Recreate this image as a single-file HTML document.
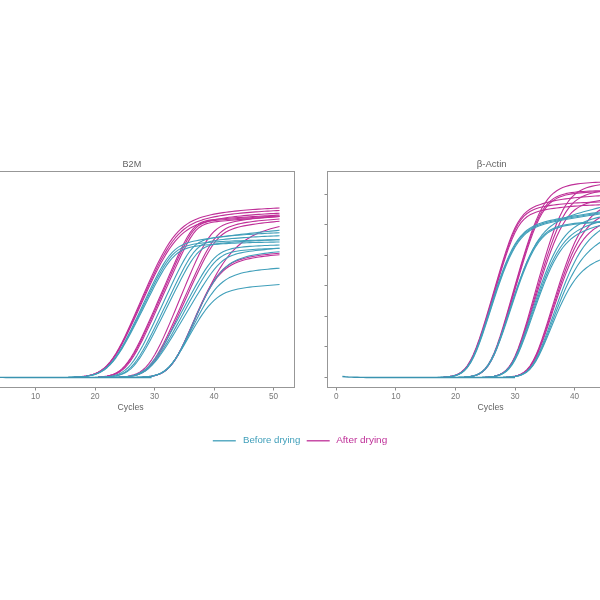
<!DOCTYPE html>
<html><head><meta charset="utf-8"><title>qPCR amplification curves</title>
<style>
html,body{margin:0;padding:0;background:#fff;}
body{width:600px;height:600px;overflow:hidden;font-family:"Liberation Sans",sans-serif;}
div.wrap{width:600px;height:600px;will-change:transform;}
svg{display:block;font-family:"Liberation Sans",sans-serif;}
</style></head><body>
<div class="wrap"><svg width="600" height="600" viewBox="0 0 600 600">
<rect width="600" height="600" fill="#ffffff"/>
<clipPath id="cl"><rect x="-32.5" y="171.5" width="327.0" height="216.0"/></clipPath>
<g clip-path="url(#cl)" fill="none" stroke-width="1.1" stroke-linejoin="round">
<path d="M74.28 377.10 L77.25 376.94 L80.22 376.72 L83.20 376.42 L86.18 376.01 L89.15 375.44 L92.12 374.68 L95.10 373.65 L98.08 372.30 L101.05 370.53 L104.03 368.28 L107.00 365.48 L109.97 362.08 L112.95 358.07 L115.93 353.47 L118.90 348.32 L121.88 342.70 L124.85 336.68 L127.82 330.35 L130.80 323.80 L133.78 317.08 L136.75 310.26 L139.72 303.39 L142.70 296.52 L145.68 289.70 L148.65 282.97 L151.62 276.38 L154.60 269.98 L157.57 263.83 L160.55 257.97 L163.53 252.45 L166.50 247.33 L169.47 242.64 L172.45 238.41 L175.43 234.65 L178.40 231.35 L181.38 228.47 L184.35 226.00 L187.32 223.88 L190.30 222.07 L193.28 220.52 L196.25 219.20 L199.22 218.05 L202.20 217.06 L205.18 216.20 L208.15 215.44 L211.12 214.76 L214.10 214.15 L217.07 213.61 L220.05 213.11 L223.03 212.66 L226.00 212.24 L228.97 211.85 L231.95 211.49 L234.92 211.16 L237.90 210.85 L240.88 210.55 L243.85 210.28 L246.83 210.02 L249.80 209.78 L252.78 209.55 L255.75 209.34 L258.73 209.14 L261.70 208.94 L264.68 208.76 L267.65 208.59 L270.63 208.43 L273.60 208.28 L276.58 208.14 L279.55 208.00" stroke="#bf2f98"/>
<path d="M74.28 377.11 L77.25 376.95 L80.22 376.74 L83.20 376.45 L86.18 376.05 L89.15 375.50 L92.12 374.75 L95.10 373.75 L98.08 372.43 L101.05 370.72 L104.03 368.53 L107.00 365.80 L109.97 362.49 L112.95 358.59 L115.93 354.11 L118.90 349.09 L121.88 343.62 L124.85 337.76 L127.82 331.60 L130.80 325.21 L133.78 318.67 L136.75 312.02 L139.72 305.32 L142.70 298.62 L145.68 291.96 L148.65 285.38 L151.62 278.94 L154.60 272.67 L157.57 266.62 L160.55 260.85 L163.53 255.41 L166.50 250.35 L169.47 245.70 L172.45 241.48 L175.43 237.72 L178.40 234.41 L181.38 231.52 L184.35 229.02 L187.32 226.87 L190.30 225.03 L193.28 223.45 L196.25 222.09 L199.22 220.92 L202.20 219.90 L205.18 219.01 L208.15 218.23 L211.12 217.53 L214.10 216.90 L217.07 216.34 L220.05 215.82 L223.03 215.35 L226.00 214.91 L228.97 214.51 L231.95 214.14 L234.92 213.79 L237.90 213.47 L240.88 213.16 L243.85 212.88 L246.83 212.61 L249.80 212.36 L252.78 212.12 L255.75 211.90 L258.73 211.68 L261.70 211.48 L264.68 211.30 L267.65 211.12 L270.63 210.95 L273.60 210.79 L276.58 210.64 L279.55 210.50" stroke="#bf2f98"/>
<path d="M74.28 377.12 L77.25 376.97 L80.22 376.76 L83.20 376.48 L86.18 376.09 L89.15 375.55 L92.12 374.83 L95.10 373.86 L98.08 372.57 L101.05 370.90 L104.03 368.77 L107.00 366.12 L109.97 362.90 L112.95 359.11 L115.93 354.75 L118.90 349.87 L121.88 344.54 L124.85 338.84 L127.82 332.85 L130.80 326.63 L133.78 320.26 L136.75 313.78 L139.72 307.26 L142.70 300.72 L145.68 294.23 L148.65 287.81 L151.62 281.50 L154.60 275.36 L157.57 269.44 L160.55 263.77 L163.53 258.41 L166.50 253.40 L169.47 248.79 L172.45 244.60 L175.43 240.85 L178.40 237.53 L181.38 234.63 L184.35 232.11 L187.32 229.94 L190.30 228.07 L193.28 226.47 L196.25 225.09 L199.22 223.90 L202.20 222.86 L205.18 221.95 L208.15 221.14 L211.12 220.43 L214.10 219.78 L217.07 219.20 L220.05 218.67 L223.03 218.19 L226.00 217.74 L228.97 217.33 L231.95 216.94 L234.92 216.59 L237.90 216.25 L240.88 215.94 L243.85 215.65 L246.83 215.37 L249.80 215.11 L252.78 214.87 L255.75 214.64 L258.73 214.42 L261.70 214.21 L264.68 214.02 L267.65 213.84 L270.63 213.66 L273.60 213.50 L276.58 213.35 L279.55 213.20" stroke="#bf2f98"/>
<path d="M98.08 377.05 L101.05 376.84 L104.03 376.52 L107.00 376.06 L109.97 375.39 L112.95 374.44 L115.93 373.12 L118.90 371.31 L121.88 368.92 L124.85 365.88 L127.82 362.16 L130.80 357.77 L133.78 352.79 L136.75 347.30 L139.72 341.42 L142.70 335.23 L145.68 328.83 L148.65 322.28 L151.62 315.61 L154.60 308.87 L157.57 302.09 L160.55 295.27 L163.53 288.44 L166.50 281.61 L169.47 274.80 L172.45 268.03 L175.43 261.34 L178.40 254.79 L181.38 248.46 L184.35 242.50 L187.32 237.07 L190.30 232.37 L193.28 228.54 L196.25 225.63 L199.22 223.53 L202.20 222.08 L205.18 221.09 L208.15 220.40 L211.12 219.91 L214.10 219.52 L217.07 219.21 L220.05 218.94 L223.03 218.69 L226.00 218.46 L228.97 218.24 L231.95 218.02 L234.92 217.81 L237.90 217.61 L240.88 217.40 L243.85 217.20 L246.83 217.01 L249.80 216.81 L252.78 216.62 L255.75 216.43 L258.73 216.24 L261.70 216.06 L264.68 215.88 L267.65 215.70 L270.63 215.52 L273.60 215.34 L276.58 215.17 L279.55 215.00" stroke="#bf2f98"/>
<path d="M98.08 377.09 L101.05 376.90 L104.03 376.61 L107.00 376.18 L109.97 375.57 L112.95 374.70 L115.93 373.48 L118.90 371.80 L121.88 369.57 L124.85 366.71 L127.82 363.17 L130.80 358.97 L133.78 354.17 L136.75 348.85 L139.72 343.13 L142.70 337.09 L145.68 330.81 L148.65 324.38 L151.62 317.83 L154.60 311.20 L157.57 304.52 L160.55 297.81 L163.53 291.08 L166.50 284.34 L169.47 277.62 L172.45 270.93 L175.43 264.30 L178.40 257.77 L181.38 251.44 L184.35 245.40 L187.32 239.83 L190.30 234.89 L193.28 230.77 L196.25 227.54 L199.22 225.17 L202.20 223.51 L205.18 222.37 L208.15 221.58 L211.12 221.01 L214.10 220.59 L217.07 220.24 L220.05 219.95 L223.03 219.68 L226.00 219.43 L228.97 219.20 L231.95 218.97 L234.92 218.75 L237.90 218.54 L240.88 218.32 L243.85 218.11 L246.83 217.91 L249.80 217.70 L252.78 217.50 L255.75 217.30 L258.73 217.11 L261.70 216.91 L264.68 216.72 L267.65 216.53 L270.63 216.35 L273.60 216.16 L276.58 215.98 L279.55 215.80" stroke="#bf2f98"/>
<path d="M98.08 377.14 L101.05 376.97 L104.03 376.72 L107.00 376.35 L109.97 375.81 L112.95 375.03 L115.93 373.94 L118.90 372.43 L121.88 370.41 L124.85 367.78 L127.82 364.50 L130.80 360.55 L133.78 355.99 L136.75 350.89 L139.72 345.36 L142.70 339.49 L145.68 333.37 L148.65 327.08 L151.62 320.65 L154.60 314.14 L157.57 307.57 L160.55 300.96 L163.53 294.34 L166.50 287.70 L169.47 281.06 L172.45 274.45 L175.43 267.89 L178.40 261.41 L181.38 255.08 L184.35 248.99 L187.32 243.28 L190.30 238.12 L193.28 233.69 L196.25 230.12 L199.22 227.42 L202.20 225.49 L205.18 224.14 L208.15 223.20 L211.12 222.52 L214.10 222.02 L217.07 221.61 L220.05 221.27 L223.03 220.96 L226.00 220.68 L228.97 220.41 L231.95 220.15 L234.92 219.89 L237.90 219.64 L240.88 219.40 L243.85 219.16 L246.83 218.92 L249.80 218.69 L252.78 218.45 L255.75 218.23 L258.73 218.00 L261.70 217.78 L264.68 217.56 L267.65 217.34 L270.63 217.13 L273.60 216.92 L276.58 216.71 L279.55 216.50" stroke="#bf2f98"/>
<path d="M118.90 377.08 L121.88 376.89 L124.85 376.61 L127.82 376.21 L130.80 375.64 L133.78 374.82 L136.75 373.68 L139.72 372.12 L142.70 370.03 L145.68 367.32 L148.65 363.93 L151.62 359.82 L154.60 355.03 L157.57 349.62 L160.55 343.71 L163.53 337.38 L166.50 330.73 L169.47 323.87 L172.45 316.84 L175.43 309.71 L178.40 302.52 L181.38 295.31 L184.35 288.12 L187.32 280.99 L190.30 273.96 L193.28 267.10 L196.25 260.49 L199.22 254.22 L202.20 248.41 L205.18 243.16 L208.15 238.56 L211.12 234.67 L214.10 231.47 L217.07 228.90 L220.05 226.87 L223.03 225.28 L226.00 224.01 L228.97 223.00 L231.95 222.17 L234.92 221.47 L237.90 220.88 L240.88 220.36 L243.85 219.89 L246.83 219.47 L249.80 219.09 L252.78 218.74 L255.75 218.42 L258.73 218.12 L261.70 217.84 L264.68 217.58 L267.65 217.33 L270.63 217.11 L273.60 216.89 L276.58 216.69 L279.55 216.50" stroke="#bf2f98"/>
<path d="M118.90 377.18 L121.88 377.03 L124.85 376.82 L127.82 376.51 L130.80 376.06 L133.78 375.43 L136.75 374.53 L139.72 373.30 L142.70 371.62 L145.68 369.41 L148.65 366.60 L151.62 363.14 L154.60 359.03 L157.57 354.32 L160.55 349.09 L163.53 343.43 L166.50 337.45 L169.47 331.22 L172.45 324.81 L175.43 318.27 L178.40 311.66 L181.38 305.00 L184.35 298.31 L187.32 291.63 L190.30 284.99 L193.28 278.41 L196.25 271.93 L199.22 265.62 L202.20 259.53 L205.18 253.77 L208.15 248.42 L211.12 243.59 L214.10 239.37 L217.07 235.78 L220.05 232.83 L223.03 230.46 L226.00 228.58 L228.97 227.09 L231.95 225.90 L234.92 224.94 L237.90 224.15 L240.88 223.48 L243.85 222.90 L246.83 222.40 L249.80 221.95 L252.78 221.54 L255.75 221.17 L258.73 220.82 L261.70 220.51 L264.68 220.21 L267.65 219.94 L270.63 219.68 L273.60 219.44 L276.58 219.21 L279.55 219.00" stroke="#bf2f98"/>
<path d="M121.88 377.10 L124.85 376.92 L127.82 376.65 L130.80 376.27 L133.78 375.72 L136.75 374.95 L139.72 373.87 L142.70 372.39 L145.68 370.42 L148.65 367.89 L151.62 364.72 L154.60 360.91 L157.57 356.48 L160.55 351.51 L163.53 346.09 L166.50 340.31 L169.47 334.25 L172.45 327.99 L175.43 321.60 L178.40 315.11 L181.38 308.56 L184.35 301.98 L187.32 295.40 L190.30 288.84 L193.28 282.34 L196.25 275.93 L199.22 269.66 L202.20 263.60 L205.18 257.83 L208.15 252.45 L211.12 247.55 L214.10 243.23 L217.07 239.53 L220.05 236.47 L223.03 233.98 L226.00 231.99 L228.97 230.41 L231.95 229.15 L234.92 228.12 L237.90 227.27 L240.88 226.54 L243.85 225.91 L246.83 225.34 L249.80 224.84 L252.78 224.37 L255.75 223.94 L258.73 223.54 L261.70 223.16 L264.68 222.81 L267.65 222.47 L270.63 222.16 L273.60 221.86 L276.58 221.57 L279.55 221.30" stroke="#bf2f98"/>
<path d="M142.70 377.07 L145.68 376.87 L148.65 376.57 L151.62 376.15 L154.60 375.55 L157.57 374.69 L160.55 373.49 L163.53 371.84 L166.50 369.64 L169.47 366.78 L172.45 363.19 L175.43 358.86 L178.40 353.82 L181.38 348.16 L184.35 342.00 L187.32 335.48 L190.30 328.74 L193.28 321.89 L196.25 315.07 L199.22 308.38 L202.20 301.92 L205.18 295.79 L208.15 290.09 L211.12 284.87 L214.10 280.19 L217.07 276.08 L220.05 272.53 L223.03 269.51 L226.00 266.96 L228.97 264.84 L231.95 263.08 L234.92 261.61 L237.90 260.38 L240.88 259.35 L243.85 258.47 L246.83 257.71 L249.80 257.05 L252.78 256.47 L255.75 255.95 L258.73 255.49 L261.70 255.07 L264.68 254.69 L267.65 254.35 L270.63 254.03 L273.60 253.73 L276.58 253.46 L279.55 253.20" stroke="#bf2f98"/>
<path d="M142.70 377.07 L145.68 376.87 L148.65 376.59 L151.62 376.17 L154.60 375.57 L157.57 374.72 L160.55 373.54 L163.53 371.91 L166.50 369.74 L169.47 366.91 L172.45 363.37 L175.43 359.10 L178.40 354.12 L181.38 348.54 L184.35 342.46 L187.32 336.02 L190.30 329.37 L193.28 322.62 L196.25 315.89 L199.22 309.29 L202.20 302.93 L205.18 296.90 L208.15 291.29 L211.12 286.15 L214.10 281.56 L217.07 277.51 L220.05 274.02 L223.03 271.05 L226.00 268.54 L228.97 266.45 L231.95 264.70 L234.92 263.24 L237.90 262.01 L240.88 260.97 L243.85 260.09 L246.83 259.32 L249.80 258.65 L252.78 258.06 L255.75 257.54 L258.73 257.06 L261.70 256.63 L264.68 256.24 L267.65 255.89 L270.63 255.55 L273.60 255.25 L276.58 254.96 L279.55 254.70" stroke="#bf2f98"/>
<path d="M142.70 377.10 L145.68 376.91 L148.65 376.64 L151.62 376.23 L154.60 375.65 L157.57 374.83 L160.55 373.67 L163.53 372.08 L166.50 369.95 L169.47 367.18 L172.45 363.71 L175.43 359.51 L178.40 354.61 L181.38 349.11 L184.35 343.10 L187.32 336.72 L190.30 330.09 L193.28 323.32 L196.25 316.50 L199.22 309.70 L202.20 303.01 L205.18 296.49 L208.15 290.19 L211.12 284.16 L214.10 278.44 L217.07 273.07 L220.05 268.08 L223.03 263.47 L226.00 259.25 L228.97 255.42 L231.95 251.95 L234.92 248.83 L237.90 246.02 L240.88 243.51 L243.85 241.26 L246.83 239.23 L249.80 237.42 L252.78 235.79 L255.75 234.31 L258.73 232.98 L261.70 231.78 L264.68 230.68 L267.65 229.69 L270.63 228.78 L273.60 227.95 L276.58 227.19 L279.55 226.50" stroke="#bf2f98"/>
<path d="M68.33 377.32 L71.30 377.25 L74.28 377.15 L77.25 377.02 L80.22 376.83 L83.20 376.57 L86.18 376.21 L89.15 375.73 L92.12 375.06 L95.10 374.18 L98.08 373.00 L101.05 371.47 L104.03 369.52 L107.00 367.08 L109.97 364.11 L112.95 360.59 L115.93 356.54 L118.90 351.99 L121.88 347.00 L124.85 341.65 L127.82 336.01 L130.80 330.13 L133.78 324.07 L136.75 317.90 L139.72 311.65 L142.70 305.35 L145.68 299.05 L148.65 292.79 L151.62 286.61 L154.60 280.57 L157.57 274.76 L160.55 269.24 L163.53 264.13 L166.50 259.53 L169.47 255.52 L172.45 252.13 L175.43 249.36 L178.40 247.15 L181.38 245.41 L184.35 244.04 L187.32 242.95 L190.30 242.06 L193.28 241.32 L196.25 240.67 L199.22 240.10 L202.20 239.58 L205.18 239.10 L208.15 238.64 L211.12 238.20 L214.10 237.77 L217.07 237.36 L220.05 236.96 L223.03 236.57 L226.00 236.19 L228.97 235.81 L231.95 235.44 L234.92 235.07 L237.90 234.72 L240.88 234.37 L243.85 234.02 L246.83 233.68 L249.80 233.35 L252.78 233.02 L255.75 232.70 L258.73 232.38 L261.70 232.07 L264.68 231.76 L267.65 231.46 L270.63 231.16 L273.60 230.87 L276.58 230.58 L279.55 230.30" stroke="#409fba"/>
<path d="M68.33 377.33 L71.30 377.26 L74.28 377.16 L77.25 377.03 L80.22 376.85 L83.20 376.60 L86.18 376.25 L89.15 375.78 L92.12 375.14 L95.10 374.28 L98.08 373.14 L101.05 371.66 L104.03 369.76 L107.00 367.39 L109.97 364.51 L112.95 361.10 L115.93 357.17 L118.90 352.76 L121.88 347.93 L124.85 342.74 L127.82 337.26 L130.80 331.56 L133.78 325.68 L136.75 319.69 L139.72 313.62 L142.70 307.50 L145.68 301.37 L148.65 295.28 L151.62 289.25 L154.60 283.34 L157.57 277.62 L160.55 272.17 L163.53 267.09 L166.50 262.48 L169.47 258.42 L172.45 254.97 L175.43 252.14 L178.40 249.89 L181.38 248.13 L184.35 246.79 L187.32 245.76 L190.30 244.96 L193.28 244.33 L196.25 243.83 L199.22 243.41 L202.20 243.06 L205.18 242.76 L208.15 242.49 L211.12 242.25 L214.10 242.03 L217.07 241.83 L220.05 241.65 L223.03 241.48 L226.00 241.32 L228.97 241.18 L231.95 241.04 L234.92 240.91 L237.90 240.79 L240.88 240.68 L243.85 240.57 L246.83 240.47 L249.80 240.38 L252.78 240.29 L255.75 240.20 L258.73 240.13 L261.70 240.05 L264.68 239.99 L267.65 239.92 L270.63 239.86 L273.60 239.80 L276.58 239.75 L279.55 239.70" stroke="#409fba"/>
<path d="M68.33 377.33 L71.30 377.27 L74.28 377.17 L77.25 377.05 L80.22 376.87 L83.20 376.63 L86.18 376.29 L89.15 375.83 L92.12 375.21 L95.10 374.38 L98.08 373.28 L101.05 371.84 L104.03 370.00 L107.00 367.71 L109.97 364.92 L112.95 361.61 L115.93 357.81 L118.90 353.53 L121.88 348.85 L124.85 343.82 L127.82 338.51 L130.80 332.98 L133.78 327.29 L136.75 321.48 L139.72 315.59 L142.70 309.66 L145.68 303.70 L148.65 297.77 L151.62 291.90 L154.60 286.12 L157.57 280.51 L160.55 275.13 L163.53 270.07 L166.50 265.44 L169.47 261.32 L172.45 257.77 L175.43 254.83 L178.40 252.47 L181.38 250.62 L184.35 249.20 L187.32 248.11 L190.30 247.27 L193.28 246.62 L196.25 246.10 L199.22 245.67 L202.20 245.31 L205.18 245.01 L208.15 244.74 L211.12 244.50 L214.10 244.29 L217.07 244.09 L220.05 243.91 L223.03 243.75 L226.00 243.59 L228.97 243.45 L231.95 243.31 L234.92 243.18 L237.90 243.07 L240.88 242.95 L243.85 242.85 L246.83 242.75 L249.80 242.66 L252.78 242.57 L255.75 242.49 L258.73 242.42 L261.70 242.35 L264.68 242.28 L267.65 242.22 L270.63 242.16 L273.60 242.10 L276.58 242.05 L279.55 242.00" stroke="#409fba"/>
<path d="M95.10 377.34 L98.08 377.26 L101.05 377.14 L104.03 376.97 L107.00 376.71 L109.97 376.34 L112.95 375.79 L115.93 375.01 L118.90 373.92 L121.88 372.41 L124.85 370.38 L127.82 367.76 L130.80 364.50 L133.78 360.60 L136.75 356.09 L139.72 351.07 L142.70 345.64 L145.68 339.88 L148.65 333.88 L151.62 327.72 L154.60 321.44 L157.57 315.08 L160.55 308.68 L163.53 302.25 L166.50 295.82 L169.47 289.42 L172.45 283.08 L175.43 276.85 L178.40 270.79 L181.38 265.00 L184.35 259.61 L187.32 254.74 L190.30 250.55 L193.28 247.11 L196.25 244.42 L199.22 242.39 L202.20 240.89 L205.18 239.79 L208.15 238.96 L211.12 238.32 L214.10 237.80 L217.07 237.37 L220.05 236.98 L223.03 236.64 L226.00 236.33 L228.97 236.03 L231.95 235.76 L234.92 235.50 L237.90 235.25 L240.88 235.01 L243.85 234.79 L246.83 234.57 L249.80 234.36 L252.78 234.16 L255.75 233.97 L258.73 233.79 L261.70 233.61 L264.68 233.44 L267.65 233.28 L270.63 233.13 L273.60 232.98 L276.58 232.84 L279.55 232.70" stroke="#409fba"/>
<path d="M98.08 377.33 L101.05 377.24 L104.03 377.12 L107.00 376.94 L109.97 376.67 L112.95 376.28 L115.93 375.71 L118.90 374.89 L121.88 373.75 L124.85 372.19 L127.82 370.12 L130.80 367.45 L133.78 364.16 L136.75 360.25 L139.72 355.78 L142.70 350.84 L145.68 345.50 L148.65 339.88 L151.62 334.05 L154.60 328.06 L157.57 321.97 L160.55 315.81 L163.53 309.61 L166.50 303.39 L169.47 297.17 L172.45 290.97 L175.43 284.83 L178.40 278.78 L181.38 272.89 L184.35 267.24 L187.32 261.94 L190.30 257.14 L193.28 252.97 L196.25 249.52 L199.22 246.80 L202.20 244.75 L205.18 243.24 L208.15 242.14 L211.12 241.32 L214.10 240.70 L217.07 240.20 L220.05 239.79 L223.03 239.44 L226.00 239.13 L228.97 238.84 L231.95 238.57 L234.92 238.33 L237.90 238.09 L240.88 237.87 L243.85 237.65 L246.83 237.45 L249.80 237.26 L252.78 237.07 L255.75 236.89 L258.73 236.72 L261.70 236.55 L264.68 236.40 L267.65 236.25 L270.63 236.10 L273.60 235.96 L276.58 235.83 L279.55 235.70" stroke="#409fba"/>
<path d="M98.08 377.36 L101.05 377.29 L104.03 377.18 L107.00 377.03 L109.97 376.80 L112.95 376.47 L115.93 375.99 L118.90 375.30 L121.88 374.33 L124.85 372.98 L127.82 371.17 L130.80 368.81 L133.78 365.86 L136.75 362.30 L139.72 358.18 L142.70 353.57 L145.68 348.55 L148.65 343.23 L151.62 337.67 L154.60 331.95 L157.57 326.11 L160.55 320.19 L163.53 314.22 L166.50 308.23 L169.47 302.23 L172.45 296.23 L175.43 290.27 L178.40 284.38 L181.38 278.59 L184.35 272.98 L187.32 267.64 L190.30 262.68 L193.28 258.26 L196.25 254.47 L199.22 251.40 L202.20 249.03 L205.18 247.26 L208.15 245.98 L211.12 245.05 L214.10 244.36 L217.07 243.84 L220.05 243.42 L223.03 243.07 L226.00 242.77 L228.97 242.51 L231.95 242.27 L234.92 242.04 L237.90 241.83 L240.88 241.63 L243.85 241.44 L246.83 241.26 L249.80 241.08 L252.78 240.92 L255.75 240.76 L258.73 240.60 L261.70 240.46 L264.68 240.32 L267.65 240.18 L270.63 240.06 L273.60 239.93 L276.58 239.81 L279.55 239.70" stroke="#409fba"/>
<path d="M112.95 377.34 L115.93 377.26 L118.90 377.15 L121.88 376.99 L124.85 376.75 L127.82 376.41 L130.80 375.93 L133.78 375.25 L136.75 374.29 L139.72 373.00 L142.70 371.28 L145.68 369.07 L148.65 366.31 L151.62 363.01 L154.60 359.19 L157.57 354.92 L160.55 350.26 L163.53 345.31 L166.50 340.13 L169.47 334.78 L172.45 329.32 L175.43 323.78 L178.40 318.19 L181.38 312.58 L184.35 306.96 L187.32 301.35 L190.30 295.78 L193.28 290.28 L196.25 284.89 L199.22 279.65 L202.20 274.63 L205.18 269.91 L208.15 265.58 L211.12 261.72 L214.10 258.41 L217.07 255.66 L220.05 253.45 L223.03 251.73 L226.00 250.41 L228.97 249.41 L231.95 248.64 L234.92 248.05 L237.90 247.59 L240.88 247.21 L243.85 246.90 L246.83 246.64 L249.80 246.41 L252.78 246.21 L255.75 246.02 L258.73 245.86 L261.70 245.71 L264.68 245.57 L267.65 245.44 L270.63 245.32 L273.60 245.20 L276.58 245.10 L279.55 245.00" stroke="#409fba"/>
<path d="M115.93 377.31 L118.90 377.22 L121.88 377.09 L124.85 376.90 L127.82 376.62 L130.80 376.23 L133.78 375.67 L136.75 374.88 L139.72 373.79 L142.70 372.34 L145.68 370.43 L148.65 368.01 L151.62 365.06 L154.60 361.59 L157.57 357.64 L160.55 353.28 L163.53 348.59 L166.50 343.65 L169.47 338.52 L172.45 333.25 L175.43 327.89 L178.40 322.46 L181.38 317.01 L184.35 311.53 L187.32 306.06 L190.30 300.61 L193.28 295.21 L196.25 289.90 L199.22 284.70 L202.20 279.68 L205.18 274.92 L208.15 270.48 L211.12 266.46 L214.10 262.93 L217.07 259.95 L220.05 257.52 L223.03 255.59 L226.00 254.10 L228.97 252.97 L231.95 252.11 L234.92 251.45 L237.90 250.94 L240.88 250.54 L243.85 250.21 L246.83 249.93 L249.80 249.70 L252.78 249.49 L255.75 249.31 L258.73 249.15 L261.70 249.00 L264.68 248.86 L267.65 248.73 L270.63 248.61 L273.60 248.50 L276.58 248.40 L279.55 248.30" stroke="#409fba"/>
<path d="M115.93 377.31 L118.90 377.23 L121.88 377.10 L124.85 376.92 L127.82 376.65 L130.80 376.27 L133.78 375.73 L136.75 374.97 L139.72 373.94 L142.70 372.55 L145.68 370.74 L148.65 368.46 L151.62 365.70 L154.60 362.46 L157.57 358.80 L160.55 354.77 L163.53 350.46 L166.50 345.93 L169.47 341.23 L172.45 336.41 L175.43 331.51 L178.40 326.55 L181.38 321.56 L184.35 316.55 L187.32 311.53 L190.30 306.51 L193.28 301.52 L196.25 296.56 L199.22 291.67 L202.20 286.86 L205.18 282.19 L208.15 277.71 L211.12 273.49 L214.10 269.59 L217.07 266.11 L220.05 263.08 L223.03 260.53 L226.00 258.45 L228.97 256.78 L231.95 255.46 L234.92 254.40 L237.90 253.56 L240.88 252.86 L243.85 252.28 L246.83 251.77 L249.80 251.33 L252.78 250.93 L255.75 250.56 L258.73 250.22 L261.70 249.90 L264.68 249.60 L267.65 249.31 L270.63 249.04 L273.60 248.78 L276.58 248.54 L279.55 248.30" stroke="#409fba"/>
<path d="M133.78 377.36 L136.75 377.29 L139.72 377.19 L142.70 377.04 L145.68 376.82 L148.65 376.50 L151.62 376.04 L154.60 375.38 L157.57 374.44 L160.55 373.15 L163.53 371.42 L166.50 369.16 L169.47 366.32 L172.45 362.90 L175.43 358.93 L178.40 354.50 L181.38 349.70 L184.35 344.65 L187.32 339.46 L190.30 334.22 L193.28 329.04 L196.25 324.00 L199.22 319.17 L202.20 314.64 L205.18 310.45 L208.15 306.66 L211.12 303.30 L214.10 300.38 L217.07 297.88 L220.05 295.78 L223.03 294.04 L226.00 292.61 L228.97 291.43 L231.95 290.46 L234.92 289.67 L237.90 289.00 L240.88 288.44 L243.85 287.95 L246.83 287.53 L249.80 287.15 L252.78 286.82 L255.75 286.50 L258.73 286.21 L261.70 285.94 L264.68 285.68 L267.65 285.43 L270.63 285.19 L273.60 284.95 L276.58 284.72 L279.55 284.50" stroke="#409fba"/>
<path d="M136.75 377.31 L139.72 377.22 L142.70 377.08 L145.68 376.88 L148.65 376.59 L151.62 376.17 L154.60 375.55 L157.57 374.68 L160.55 373.46 L163.53 371.80 L166.50 369.59 L169.47 366.77 L172.45 363.29 L175.43 359.16 L178.40 354.45 L181.38 349.26 L184.35 343.70 L187.32 337.90 L190.30 331.98 L193.28 326.03 L196.25 320.14 L199.22 314.41 L202.20 308.92 L205.18 303.74 L208.15 298.93 L211.12 294.56 L214.10 290.65 L217.07 287.22 L220.05 284.26 L223.03 281.74 L226.00 279.63 L228.97 277.86 L231.95 276.39 L234.92 275.17 L237.90 274.16 L240.88 273.30 L243.85 272.57 L246.83 271.95 L249.80 271.41 L252.78 270.93 L255.75 270.51 L258.73 270.13 L261.70 269.78 L264.68 269.47 L267.65 269.18 L270.63 268.91 L273.60 268.66 L276.58 268.42 L279.55 268.20" stroke="#409fba"/>
<path d="M136.75 377.32 L139.72 377.23 L142.70 377.10 L145.68 376.91 L148.65 376.63 L151.62 376.23 L154.60 375.64 L157.57 374.79 L160.55 373.61 L163.53 371.97 L166.50 369.77 L169.47 366.92 L172.45 363.34 L175.43 359.04 L178.40 354.05 L181.38 348.46 L184.35 342.42 L187.32 336.03 L190.30 329.44 L193.28 322.76 L196.25 316.08 L199.22 309.51 L202.20 303.13 L205.18 297.03 L208.15 291.28 L211.12 285.96 L214.10 281.11 L217.07 276.78 L220.05 272.98 L223.03 269.70 L226.00 266.90 L228.97 264.55 L231.95 262.58 L234.92 260.93 L237.90 259.55 L240.88 258.40 L243.85 257.42 L246.83 256.59 L249.80 255.87 L252.78 255.24 L255.75 254.68 L258.73 254.18 L261.70 253.73 L264.68 253.33 L267.65 252.95 L270.63 252.60 L273.60 252.28 L276.58 251.98 L279.55 251.70" stroke="#409fba"/>
<path d="M-17.95 376.50 L-14.97 376.78 L-12.00 376.99 L-9.02 377.13 L-6.05 377.24 L-3.07 377.31 L-0.10 377.36 L2.88 377.40 L5.85 377.43 L8.83 377.45 L11.80 377.46 L14.78 377.47 L17.75 377.48 L20.73 377.49 L23.70 377.49 L26.68 377.49 L29.65 377.50 L32.62 377.50 L35.60 377.50 L38.58 377.50 L41.55 377.50 L44.52 377.50 L47.50 377.50 L50.48 377.50 L53.45 377.50 L56.43 377.50 L59.40 377.50 L62.38 377.50 L65.35 377.50 L68.33 377.50 L71.30 377.50 L74.28 377.50 L77.25 377.50 L80.22 377.50 L83.20 377.50 L86.18 377.50 L89.15 377.50 L92.12 377.50 L95.10 377.50 L98.08 377.50 L101.05 377.50 L104.03 377.50 L107.00 377.50 L109.97 377.50 L112.95 377.50 L115.93 377.50 L118.90 377.50 L121.88 377.50 L124.85 377.50 L127.82 377.50 L130.80 377.50 L133.78 377.50 L136.75 377.50 L139.72 377.50 L142.70 377.50 L145.68 377.50 L148.65 377.50 L151.62 377.50" stroke="#3a93b0" stroke-width="1.45"/>
</g>
<rect x="-32.5" y="171.5" width="327.0" height="216.0" fill="none" stroke="#979797" stroke-width="1"/>
<line x1="35.5" y1="388.0" x2="35.5" y2="390.5" stroke="#8c8c8c" stroke-width="1"/>
<text x="35.6" y="398.6" font-size="8.2" text-anchor="middle" fill="#787878">10</text>
<line x1="95.5" y1="388.0" x2="95.5" y2="390.5" stroke="#8c8c8c" stroke-width="1"/>
<text x="95.1" y="398.6" font-size="8.2" text-anchor="middle" fill="#787878">20</text>
<line x1="154.5" y1="388.0" x2="154.5" y2="390.5" stroke="#8c8c8c" stroke-width="1"/>
<text x="154.6" y="398.6" font-size="8.2" text-anchor="middle" fill="#787878">30</text>
<line x1="214.5" y1="388.0" x2="214.5" y2="390.5" stroke="#8c8c8c" stroke-width="1"/>
<text x="214.1" y="398.6" font-size="8.2" text-anchor="middle" fill="#787878">40</text>
<line x1="273.5" y1="388.0" x2="273.5" y2="390.5" stroke="#8c8c8c" stroke-width="1"/>
<text x="273.6" y="398.6" font-size="8.2" text-anchor="middle" fill="#787878">50</text>
<line x1="-35.5" y1="377.5" x2="-33.0" y2="377.5" stroke="#8c8c8c" stroke-width="1"/>
<line x1="-35.5" y1="346.5" x2="-33.0" y2="346.5" stroke="#8c8c8c" stroke-width="1"/>
<line x1="-35.5" y1="316.5" x2="-33.0" y2="316.5" stroke="#8c8c8c" stroke-width="1"/>
<line x1="-35.5" y1="285.5" x2="-33.0" y2="285.5" stroke="#8c8c8c" stroke-width="1"/>
<line x1="-35.5" y1="255.5" x2="-33.0" y2="255.5" stroke="#8c8c8c" stroke-width="1"/>
<line x1="-35.5" y1="224.5" x2="-33.0" y2="224.5" stroke="#8c8c8c" stroke-width="1"/>
<line x1="-35.5" y1="194.5" x2="-33.0" y2="194.5" stroke="#8c8c8c" stroke-width="1"/>
<text x="131.9" y="167.4" font-size="9.8" text-anchor="middle" textLength="18.7" lengthAdjust="spacingAndGlyphs" fill="#636363">B2M</text>
<clipPath id="cr"><rect x="327.5" y="171.5" width="327.0" height="216.0"/></clipPath>
<g clip-path="url(#cr)" fill="none" stroke-width="1.1" stroke-linejoin="round">
<path d="M443.59 377.11 L446.57 376.88 L449.54 376.53 L452.52 375.98 L455.50 375.14 L458.48 373.86 L461.45 371.98 L464.43 369.28 L467.41 365.55 L470.39 360.65 L473.37 354.52 L476.34 347.25 L479.32 339.00 L482.30 329.98 L485.27 320.42 L488.25 310.49 L491.23 300.35 L494.21 290.13 L497.18 279.93 L500.16 269.89 L503.14 260.14 L506.12 250.85 L509.09 242.24 L512.07 234.50 L515.05 227.80 L518.03 222.22 L521.00 217.73 L523.98 214.19 L526.96 211.43 L529.94 209.26 L532.91 207.52 L535.89 206.10 L538.87 204.92 L541.85 203.90 L544.83 203.02 L547.80 202.24 L550.78 201.54 L553.76 200.90 L556.74 200.33 L559.71 199.81 L562.69 199.33 L565.67 198.89 L568.64 198.49 L571.62 198.12 L574.60 197.78 L577.58 197.47 L580.55 197.18 L583.53 196.92 L586.51 196.68 L589.49 196.45 L592.46 196.25 L595.44 196.06 L598.42 195.88 L601.40 195.72" stroke="#bf2f98"/>
<path d="M443.59 377.13 L446.57 376.91 L449.54 376.58 L452.52 376.06 L455.50 375.26 L458.48 374.05 L461.45 372.25 L464.43 369.66 L467.41 366.08 L470.39 361.35 L473.37 355.40 L476.34 348.30 L479.32 340.21 L482.30 331.34 L485.27 321.91 L488.25 312.10 L491.23 302.06 L494.21 291.93 L497.18 281.81 L500.16 271.83 L503.14 262.12 L506.12 252.84 L509.09 244.20 L512.07 236.42 L515.05 229.67 L518.03 224.06 L521.00 219.59 L523.98 216.13 L526.96 213.50 L529.94 211.50 L532.91 209.98 L535.89 208.79 L538.87 207.84 L541.85 207.07 L544.83 206.42 L547.80 205.87 L550.78 205.39 L553.76 204.97 L556.74 204.60 L559.71 204.27 L562.69 203.97 L565.67 203.71 L568.64 203.47 L571.62 203.25 L574.60 203.06 L577.58 202.88 L580.55 202.72 L583.53 202.58 L586.51 202.45 L589.49 202.33 L592.46 202.23 L595.44 202.13 L598.42 202.04 L601.40 201.96" stroke="#bf2f98"/>
<path d="M443.59 377.15 L446.57 376.94 L449.54 376.63 L452.52 376.13 L455.50 375.38 L458.48 374.22 L461.45 372.51 L464.43 370.04 L467.41 366.59 L470.39 362.02 L473.37 356.25 L476.34 349.32 L479.32 341.40 L482.30 332.68 L485.27 323.39 L488.25 313.71 L491.23 303.80 L494.21 293.79 L497.18 283.78 L500.16 273.92 L503.14 264.33 L506.12 255.18 L509.09 246.69 L512.07 239.05 L515.05 232.46 L518.03 227.00 L521.00 222.66 L523.98 219.32 L526.96 216.78 L529.94 214.86 L532.91 213.39 L535.89 212.23 L538.87 211.30 L541.85 210.52 L544.83 209.87 L547.80 209.30 L550.78 208.80 L553.76 208.35 L556.74 207.94 L559.71 207.58 L562.69 207.25 L565.67 206.94 L568.64 206.66 L571.62 206.41 L574.60 206.17 L577.58 205.95 L580.55 205.76 L583.53 205.57 L586.51 205.41 L589.49 205.25 L592.46 205.11 L595.44 204.98 L598.42 204.86 L601.40 204.75" stroke="#bf2f98"/>
<path d="M464.43 377.08 L467.41 376.83 L470.39 376.44 L473.37 375.85 L476.34 374.93 L479.32 373.53 L482.30 371.48 L485.27 368.55 L488.25 364.51 L491.23 359.23 L494.21 352.68 L497.18 344.94 L500.16 336.21 L503.14 326.73 L506.12 316.74 L509.09 306.43 L512.07 295.96 L515.05 285.48 L518.03 275.10 L521.00 264.92 L523.98 255.05 L526.96 245.61 L529.94 236.69 L532.91 228.42 L535.89 220.89 L538.87 214.18 L541.85 208.32 L544.83 203.33 L547.80 199.15 L550.78 195.72 L553.76 192.94 L556.74 190.72 L559.71 188.96 L562.69 187.57 L565.67 186.47 L568.64 185.60 L571.62 184.91 L574.60 184.35 L577.58 183.90 L580.55 183.53 L583.53 183.23 L586.51 182.97 L589.49 182.75 L592.46 182.57 L595.44 182.41 L598.42 182.27 L601.40 182.14" stroke="#bf2f98"/>
<path d="M464.43 377.09 L467.41 376.86 L470.39 376.49 L473.37 375.93 L476.34 375.05 L479.32 373.73 L482.30 371.78 L485.27 368.98 L488.25 365.11 L491.23 360.03 L494.21 353.68 L497.18 346.14 L500.16 337.61 L503.14 328.30 L506.12 318.44 L509.09 308.24 L512.07 297.85 L515.05 287.42 L518.03 277.07 L521.00 266.89 L523.98 257.03 L526.96 247.60 L529.94 238.74 L532.91 230.59 L535.89 223.28 L538.87 216.90 L541.85 211.48 L544.83 207.01 L547.80 203.41 L550.78 200.58 L553.76 198.38 L556.74 196.70 L559.71 195.41 L562.69 194.42 L565.67 193.66 L568.64 193.06 L571.62 192.60 L574.60 192.22 L577.58 191.92 L580.55 191.67 L583.53 191.46 L586.51 191.28 L589.49 191.12 L592.46 190.98 L595.44 190.86 L598.42 190.75 L601.40 190.65" stroke="#bf2f98"/>
<path d="M464.43 377.12 L467.41 376.90 L470.39 376.55 L473.37 376.01 L476.34 375.19 L479.32 373.94 L482.30 372.08 L485.27 369.41 L488.25 365.71 L491.23 360.82 L494.21 354.67 L497.18 347.35 L500.16 339.01 L503.14 329.89 L506.12 320.20 L509.09 310.16 L512.07 299.92 L515.05 289.62 L518.03 279.37 L521.00 269.29 L523.98 259.49 L526.96 250.10 L529.94 241.25 L532.91 233.08 L535.89 225.71 L538.87 219.24 L541.85 213.71 L544.83 209.12 L547.80 205.40 L550.78 202.45 L553.76 200.14 L556.74 198.36 L559.71 196.98 L562.69 195.91 L565.67 195.08 L568.64 194.43 L571.62 193.91 L574.60 193.49 L577.58 193.14 L580.55 192.85 L583.53 192.60 L586.51 192.39 L589.49 192.20 L592.46 192.04 L595.44 191.89 L598.42 191.76 L601.40 191.65" stroke="#bf2f98"/>
<path d="M485.27 377.17 L488.25 376.98 L491.23 376.68 L494.21 376.20 L497.18 375.47 L500.16 374.35 L503.14 372.68 L506.12 370.23 L509.09 366.78 L512.07 362.14 L515.05 356.18 L518.03 348.94 L521.00 340.55 L523.98 331.25 L526.96 321.29 L529.94 310.91 L532.91 300.28 L535.89 289.59 L538.87 278.96 L541.85 268.53 L544.83 258.40 L547.80 248.70 L550.78 239.54 L553.76 231.04 L556.74 223.31 L559.71 216.41 L562.69 210.39 L565.67 205.25 L568.64 200.95 L571.62 197.41 L574.60 194.54 L577.58 192.24 L580.55 190.40 L583.53 188.94 L586.51 187.78 L589.49 186.86 L592.46 186.11 L595.44 185.51 L598.42 185.02 L601.40 184.61" stroke="#bf2f98"/>
<path d="M485.27 377.18 L488.25 376.99 L491.23 376.70 L494.21 376.24 L497.18 375.54 L500.16 374.46 L503.14 372.84 L506.12 370.48 L509.09 367.17 L512.07 362.70 L515.05 357.00 L518.03 350.07 L521.00 342.06 L523.98 333.20 L526.96 323.71 L529.94 313.81 L532.91 303.70 L535.89 293.51 L538.87 283.38 L541.85 273.42 L544.83 263.74 L547.80 254.45 L550.78 245.66 L553.76 237.47 L556.74 229.99 L559.71 223.29 L562.69 217.41 L565.67 212.36 L568.64 208.10 L571.62 204.57 L574.60 201.69 L577.58 199.35 L580.55 197.47 L583.53 195.96 L586.51 194.74 L589.49 193.75 L592.46 192.95 L595.44 192.29 L598.42 191.75 L601.40 191.29" stroke="#bf2f98"/>
<path d="M485.27 377.19 L488.25 377.00 L491.23 376.72 L494.21 376.27 L497.18 375.58 L500.16 374.52 L503.14 372.94 L506.12 370.64 L509.09 367.41 L512.07 363.08 L515.05 357.55 L518.03 350.87 L521.00 343.17 L523.98 334.66 L526.96 325.57 L529.94 316.11 L532.91 306.45 L535.89 296.73 L538.87 287.08 L541.85 277.60 L544.83 268.40 L547.80 259.59 L550.78 251.27 L553.76 243.54 L556.74 236.49 L559.71 230.20 L562.69 224.69 L565.67 219.97 L568.64 216.00 L571.62 212.71 L574.60 210.03 L577.58 207.85 L580.55 206.10 L583.53 204.69 L586.51 203.55 L589.49 202.63 L592.46 201.87 L595.44 201.25 L598.42 200.74 L601.40 200.30" stroke="#bf2f98"/>
<path d="M506.12 377.16 L509.09 376.95 L512.07 376.62 L515.05 376.11 L518.03 375.30 L521.00 374.08 L523.98 372.26 L526.96 369.63 L529.94 365.98 L532.91 361.15 L535.89 355.09 L538.87 347.87 L541.85 339.70 L544.83 330.79 L547.80 321.42 L550.78 311.78 L553.76 302.07 L556.74 292.44 L559.71 283.03 L562.69 273.95 L565.67 265.31 L568.64 257.19 L571.62 249.67 L574.60 242.81 L577.58 236.65 L580.55 231.19 L583.53 226.42 L586.51 222.29 L589.49 218.75 L592.46 215.73 L595.44 213.17 L598.42 211.00 L601.40 209.15" stroke="#bf2f98"/>
<path d="M506.12 377.19 L509.09 377.00 L512.07 376.69 L515.05 376.21 L518.03 375.47 L521.00 374.32 L523.98 372.62 L526.96 370.14 L529.94 366.69 L532.91 362.11 L535.89 356.32 L538.87 349.41 L541.85 341.53 L544.83 332.93 L547.80 323.86 L550.78 314.53 L553.76 305.14 L556.74 295.83 L559.71 286.75 L562.69 278.02 L565.67 269.72 L568.64 261.96 L571.62 254.80 L574.60 248.29 L577.58 242.47 L580.55 237.33 L583.53 232.85 L586.51 228.98 L589.49 225.67 L592.46 222.85 L595.44 220.46 L598.42 218.43 L601.40 216.71" stroke="#bf2f98"/>
<path d="M506.12 377.22 L509.09 377.04 L512.07 376.76 L515.05 376.31 L518.03 375.62 L521.00 374.55 L523.98 372.96 L526.96 370.64 L529.94 367.38 L532.91 363.03 L535.89 357.52 L538.87 350.90 L541.85 343.33 L544.83 335.04 L547.80 326.27 L550.78 317.26 L553.76 308.18 L556.74 299.21 L559.71 290.47 L562.69 282.08 L565.67 274.15 L568.64 266.75 L571.62 259.97 L574.60 253.85 L577.58 248.40 L580.55 243.61 L583.53 239.47 L586.51 235.91 L589.49 232.89 L592.46 230.32 L595.44 228.16 L598.42 226.33 L601.40 224.79" stroke="#bf2f98"/>
<path d="M437.63 377.37 L440.61 377.29 L443.59 377.16 L446.57 376.96 L449.54 376.65 L452.52 376.16 L455.50 375.40 L458.48 374.25 L461.45 372.53 L464.43 370.05 L467.41 366.59 L470.39 361.99 L473.37 356.20 L476.34 349.28 L479.32 341.39 L482.30 332.78 L485.27 323.68 L488.25 314.33 L491.23 304.92 L494.21 295.60 L497.18 286.54 L500.16 277.87 L503.14 269.71 L506.12 262.18 L509.09 255.37 L512.07 249.32 L515.05 244.08 L518.03 239.61 L521.00 235.87 L523.98 232.77 L526.96 230.23 L529.94 228.14 L532.91 226.42 L535.89 224.99 L538.87 223.79 L541.85 222.77 L544.83 221.87 L547.80 221.08 L550.78 220.37 L553.76 219.71 L556.74 219.10 L559.71 218.52 L562.69 217.96 L565.67 217.43 L568.64 216.91 L571.62 216.41 L574.60 215.91 L577.58 215.43 L580.55 214.95 L583.53 214.49 L586.51 214.02 L589.49 213.57 L592.46 213.11 L595.44 212.67 L598.42 212.23 L601.40 211.79" stroke="#409fba"/>
<path d="M440.61 377.30 L443.59 377.18 L446.57 376.99 L449.54 376.70 L452.52 376.23 L455.50 375.51 L458.48 374.41 L461.45 372.78 L464.43 370.40 L467.41 367.08 L470.39 362.64 L473.37 357.02 L476.34 350.26 L479.32 342.53 L482.30 334.05 L485.27 325.07 L488.25 315.81 L491.23 306.47 L494.21 297.22 L497.18 288.19 L500.16 279.54 L503.14 271.38 L506.12 263.82 L509.09 256.96 L512.07 250.87 L515.05 245.56 L518.03 241.03 L521.00 237.22 L523.98 234.06 L526.96 231.47 L529.94 229.34 L532.91 227.58 L535.89 226.13 L538.87 224.90 L541.85 223.86 L544.83 222.95 L547.80 222.15 L550.78 221.43 L553.76 220.76 L556.74 220.14 L559.71 219.56 L562.69 219.00 L565.67 218.46 L568.64 217.94 L571.62 217.43 L574.60 216.94 L577.58 216.45 L580.55 215.97 L583.53 215.50 L586.51 215.03 L589.49 214.57 L592.46 214.12 L595.44 213.67 L598.42 213.23 L601.40 212.79" stroke="#409fba"/>
<path d="M440.61 377.31 L443.59 377.20 L446.57 377.02 L449.54 376.74 L452.52 376.30 L455.50 375.61 L458.48 374.57 L461.45 373.01 L464.43 370.74 L467.41 367.55 L470.39 363.26 L473.37 357.81 L476.34 351.22 L479.32 343.64 L482.30 335.30 L485.27 326.44 L488.25 317.28 L491.23 308.02 L494.21 298.82 L497.18 289.83 L500.16 281.20 L503.14 273.03 L506.12 265.46 L509.09 258.56 L512.07 252.41 L515.05 247.05 L518.03 242.45 L521.00 238.58 L523.98 235.36 L526.96 232.71 L529.94 230.54 L532.91 228.75 L535.89 227.26 L538.87 226.02 L541.85 224.96 L544.83 224.04 L547.80 223.22 L550.78 222.49 L553.76 221.81 L556.74 221.19 L559.71 220.60 L562.69 220.03 L565.67 219.49 L568.64 218.97 L571.62 218.46 L574.60 217.96 L577.58 217.47 L580.55 216.99 L583.53 216.51 L586.51 216.04 L589.49 215.58 L592.46 215.13 L595.44 214.68 L598.42 214.23 L601.40 213.79" stroke="#409fba"/>
<path d="M458.48 377.35 L461.45 377.26 L464.43 377.10 L467.41 376.86 L470.39 376.48 L473.37 375.88 L476.34 374.96 L479.32 373.57 L482.30 371.52 L485.27 368.62 L488.25 364.68 L491.23 359.61 L494.21 353.40 L497.18 346.19 L500.16 338.18 L503.14 329.61 L506.12 320.70 L509.09 311.64 L512.07 302.60 L515.05 293.71 L518.03 285.09 L521.00 276.84 L523.98 269.05 L526.96 261.82 L529.94 255.19 L532.91 249.22 L535.89 243.91 L538.87 239.26 L541.85 235.22 L544.83 231.75 L547.80 228.78 L550.78 226.25 L553.76 224.07 L556.74 222.19 L559.71 220.55 L562.69 219.10 L565.67 217.80 L568.64 216.63 L571.62 215.55 L574.60 214.55 L577.58 213.60 L580.55 212.71 L583.53 211.84 L586.51 211.01 L589.49 210.21 L592.46 209.42 L595.44 208.65 L598.42 207.89 L601.40 207.14" stroke="#409fba"/>
<path d="M458.48 377.34 L461.45 377.24 L464.43 377.09 L467.41 376.85 L470.39 376.47 L473.37 375.89 L476.34 374.99 L479.32 373.64 L482.30 371.65 L485.27 368.82 L488.25 364.98 L491.23 360.00 L494.21 353.89 L497.18 346.76 L500.16 338.81 L503.14 330.27 L506.12 321.35 L509.09 312.25 L512.07 303.15 L515.05 294.16 L518.03 285.44 L521.00 277.10 L523.98 269.26 L526.96 262.02 L529.94 255.46 L532.91 249.66 L535.89 244.64 L538.87 240.38 L541.85 236.83 L544.83 233.94 L547.80 231.59 L550.78 229.72 L553.76 228.23 L556.74 227.04 L559.71 226.09 L562.69 225.32 L565.67 224.70 L568.64 224.19 L571.62 223.77 L574.60 223.41 L577.58 223.11 L580.55 222.84 L583.53 222.61 L586.51 222.41 L589.49 222.22 L592.46 222.06 L595.44 221.91 L598.42 221.77 L601.40 221.64" stroke="#409fba"/>
<path d="M458.48 377.35 L461.45 377.26 L464.43 377.11 L467.41 376.89 L470.39 376.53 L473.37 375.98 L476.34 375.13 L479.32 373.85 L482.30 371.96 L485.27 369.26 L488.25 365.58 L491.23 360.78 L494.21 354.86 L497.18 347.92 L500.16 340.15 L503.14 331.76 L506.12 322.99 L509.09 314.01 L512.07 305.00 L515.05 296.09 L518.03 287.42 L521.00 279.10 L523.98 271.24 L526.96 263.96 L529.94 257.34 L532.91 251.45 L535.89 246.32 L538.87 241.95 L541.85 238.30 L544.83 235.30 L547.80 232.87 L550.78 230.92 L553.76 229.35 L556.74 228.11 L559.71 227.11 L562.69 226.31 L565.67 225.66 L568.64 225.12 L571.62 224.68 L574.60 224.30 L577.58 223.98 L580.55 223.70 L583.53 223.46 L586.51 223.25 L589.49 223.05 L592.46 222.88 L595.44 222.72 L598.42 222.57 L601.40 222.44" stroke="#409fba"/>
<path d="M482.30 377.33 L485.27 377.22 L488.25 377.04 L491.23 376.76 L494.21 376.32 L497.18 375.64 L500.16 374.59 L503.14 373.02 L506.12 370.74 L509.09 367.54 L512.07 363.27 L515.05 357.85 L518.03 351.34 L521.00 343.89 L523.98 335.72 L526.96 327.07 L529.94 318.15 L532.91 309.15 L535.89 300.21 L538.87 291.46 L541.85 283.02 L544.83 274.99 L547.80 267.46 L550.78 260.49 L553.76 254.16 L556.74 248.49 L559.71 243.49 L562.69 239.13 L565.67 235.39 L568.64 232.19 L571.62 229.48 L574.60 227.18 L577.58 225.24 L580.55 223.58 L583.53 222.17 L586.51 220.95 L589.49 219.88 L592.46 218.94 L595.44 218.11 L598.42 217.36 L601.40 216.68" stroke="#409fba"/>
<path d="M482.30 377.34 L485.27 377.24 L488.25 377.08 L491.23 376.82 L494.21 376.41 L497.18 375.77 L500.16 374.79 L503.14 373.32 L506.12 371.18 L509.09 368.16 L512.07 364.11 L515.05 358.95 L518.03 352.71 L521.00 345.54 L523.98 337.66 L526.96 329.29 L529.94 320.64 L532.91 311.91 L535.89 303.24 L538.87 294.76 L541.85 286.59 L544.83 278.82 L547.80 271.55 L550.78 264.84 L553.76 258.74 L556.74 253.28 L559.71 248.46 L562.69 244.26 L565.67 240.64 L568.64 237.53 L571.62 234.87 L574.60 232.59 L577.58 230.63 L580.55 228.93 L583.53 227.44 L586.51 226.12 L589.49 224.94 L592.46 223.86 L595.44 222.88 L598.42 221.96 L601.40 221.09" stroke="#409fba"/>
<path d="M482.30 377.35 L485.27 377.26 L488.25 377.11 L491.23 376.86 L494.21 376.48 L497.18 375.89 L500.16 374.97 L503.14 373.59 L506.12 371.58 L509.09 368.73 L512.07 364.88 L515.05 359.95 L518.03 353.96 L521.00 347.04 L523.98 339.41 L526.96 331.27 L529.94 322.85 L532.91 314.33 L535.89 305.85 L538.87 297.54 L541.85 289.52 L544.83 281.89 L547.80 274.73 L550.78 268.11 L553.76 262.08 L556.74 256.68 L559.71 251.91 L562.69 247.75 L565.67 244.16 L568.64 241.08 L571.62 238.46 L574.60 236.22 L577.58 234.29 L580.55 232.63 L583.53 231.19 L586.51 229.91 L589.49 228.77 L592.46 227.75 L595.44 226.80 L598.42 225.93 L601.40 225.11" stroke="#409fba"/>
<path d="M503.14 377.34 L506.12 377.23 L509.09 377.07 L512.07 376.81 L515.05 376.40 L518.03 375.76 L521.00 374.79 L523.98 373.33 L526.96 371.20 L529.94 368.23 L532.91 364.26 L535.89 359.22 L538.87 353.16 L541.85 346.23 L544.83 338.63 L547.80 330.57 L550.78 322.26 L553.76 313.85 L556.74 305.49 L559.71 297.30 L562.69 289.37 L565.67 281.80 L568.64 274.65 L571.62 268.00 L574.60 261.90 L577.58 256.36 L580.55 251.39 L583.53 246.98 L586.51 243.08 L589.49 239.66 L592.46 236.64 L595.44 233.98 L598.42 231.62 L601.40 229.52" stroke="#409fba"/>
<path d="M503.14 377.35 L506.12 377.26 L509.09 377.10 L512.07 376.86 L515.05 376.48 L518.03 375.88 L521.00 374.96 L523.98 373.59 L526.96 371.59 L529.94 368.79 L532.91 365.04 L535.89 360.30 L538.87 354.59 L541.85 348.07 L544.83 340.93 L547.80 333.38 L550.78 325.61 L553.76 317.78 L556.74 310.03 L559.71 302.47 L562.69 295.20 L565.67 288.30 L568.64 281.84 L571.62 275.87 L574.60 270.43 L577.58 265.52 L580.55 261.13 L583.53 257.24 L586.51 253.80 L589.49 250.77 L592.46 248.08 L595.44 245.68 L598.42 243.53 L601.40 241.59" stroke="#409fba"/>
<path d="M503.14 377.38 L506.12 377.29 L509.09 377.15 L512.07 376.92 L515.05 376.56 L518.03 376.00 L521.00 375.13 L523.98 373.82 L526.96 371.92 L529.94 369.25 L532.91 365.68 L535.89 361.15 L538.87 355.72 L541.85 349.53 L544.83 342.78 L547.80 335.68 L550.78 328.43 L553.76 321.20 L556.74 314.13 L559.71 307.34 L562.69 300.93 L565.67 294.97 L568.64 289.52 L571.62 284.61 L574.60 280.25 L577.58 276.42 L580.55 273.09 L583.53 270.21 L586.51 267.73 L589.49 265.59 L592.46 263.73 L595.44 262.11 L598.42 260.68 L601.40 259.41" stroke="#409fba"/>
<path d="M342.35 376.50 L345.33 376.78 L348.31 376.99 L351.29 377.13 L354.26 377.24 L357.24 377.31 L360.22 377.36 L363.20 377.40 L366.17 377.43 L369.15 377.45 L372.13 377.46 L375.11 377.47 L378.08 377.48 L381.06 377.49 L384.04 377.49 L387.02 377.49 L390.00 377.50 L392.97 377.50 L395.95 377.50 L398.93 377.50 L401.90 377.50 L404.88 377.50 L407.86 377.50 L410.84 377.50 L413.81 377.50 L416.79 377.50 L419.77 377.50 L422.75 377.50 L425.72 377.50 L428.70 377.50 L431.68 377.50 L434.66 377.50 L437.63 377.50 L440.61 377.50 L443.59 377.50 L446.57 377.50 L449.54 377.50 L452.52 377.50 L455.50 377.50 L458.48 377.50 L461.45 377.50 L464.43 377.50 L467.41 377.50 L470.39 377.50 L473.37 377.50 L476.34 377.50 L479.32 377.50 L482.30 377.50 L485.27 377.50 L488.25 377.50 L491.23 377.50 L494.21 377.50 L497.18 377.50 L500.16 377.50 L503.14 377.50 L506.12 377.50 L509.09 377.50 L512.07 377.50 L515.05 377.50" stroke="#3a93b0" stroke-width="1.45"/>
</g>
<rect x="327.5" y="171.5" width="327.0" height="216.0" fill="none" stroke="#979797" stroke-width="1"/>
<line x1="336.5" y1="388.0" x2="336.5" y2="390.5" stroke="#8c8c8c" stroke-width="1"/>
<text x="336.4" y="398.6" font-size="8.2" text-anchor="middle" fill="#787878">0</text>
<line x1="395.5" y1="388.0" x2="395.5" y2="390.5" stroke="#8c8c8c" stroke-width="1"/>
<text x="395.9" y="398.6" font-size="8.2" text-anchor="middle" fill="#787878">10</text>
<line x1="455.5" y1="388.0" x2="455.5" y2="390.5" stroke="#8c8c8c" stroke-width="1"/>
<text x="455.5" y="398.6" font-size="8.2" text-anchor="middle" fill="#787878">20</text>
<line x1="515.5" y1="388.0" x2="515.5" y2="390.5" stroke="#8c8c8c" stroke-width="1"/>
<text x="515.0" y="398.6" font-size="8.2" text-anchor="middle" fill="#787878">30</text>
<line x1="574.5" y1="388.0" x2="574.5" y2="390.5" stroke="#8c8c8c" stroke-width="1"/>
<text x="574.6" y="398.6" font-size="8.2" text-anchor="middle" fill="#787878">40</text>
<line x1="634.5" y1="388.0" x2="634.5" y2="390.5" stroke="#8c8c8c" stroke-width="1"/>
<text x="634.1" y="398.6" font-size="8.2" text-anchor="middle" fill="#787878">50</text>
<line x1="324.5" y1="377.5" x2="327.0" y2="377.5" stroke="#8c8c8c" stroke-width="1"/>
<line x1="324.5" y1="346.5" x2="327.0" y2="346.5" stroke="#8c8c8c" stroke-width="1"/>
<line x1="324.5" y1="316.5" x2="327.0" y2="316.5" stroke="#8c8c8c" stroke-width="1"/>
<line x1="324.5" y1="285.5" x2="327.0" y2="285.5" stroke="#8c8c8c" stroke-width="1"/>
<line x1="324.5" y1="255.5" x2="327.0" y2="255.5" stroke="#8c8c8c" stroke-width="1"/>
<line x1="324.5" y1="224.5" x2="327.0" y2="224.5" stroke="#8c8c8c" stroke-width="1"/>
<line x1="324.5" y1="194.5" x2="327.0" y2="194.5" stroke="#8c8c8c" stroke-width="1"/>
<text x="491.7" y="167.4" font-size="9.8" text-anchor="middle" textLength="30.0" lengthAdjust="spacingAndGlyphs" fill="#636363">β-Actin</text>
<text x="130.6" y="409.5" font-size="9.4" text-anchor="middle" textLength="26.2" lengthAdjust="spacingAndGlyphs" fill="#636363">Cycles</text>
<text x="490.6" y="409.5" font-size="9.4" text-anchor="middle" textLength="26.2" lengthAdjust="spacingAndGlyphs" fill="#636363">Cycles</text>
<line x1="212.8" y1="440.8" x2="235.8" y2="440.8" stroke="#409fba" stroke-width="1.3"/>
<text x="243" y="443.4" font-size="9.4" textLength="57.3" lengthAdjust="spacingAndGlyphs" fill="#409fba">Before drying</text>
<line x1="306.7" y1="440.8" x2="329.7" y2="440.8" stroke="#bf2f98" stroke-width="1.3"/>
<text x="336.2" y="443.4" font-size="9.4" textLength="51" lengthAdjust="spacingAndGlyphs" fill="#bf2f98">After drying</text>
</svg></div>
</body></html>
